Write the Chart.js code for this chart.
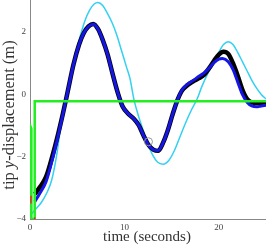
<!DOCTYPE html>
<html>
<head>
<meta charset="utf-8">
<script src="https://cdn.jsdelivr.net/npm/chart.js@4/dist/chart.umd.min.js"></script>
<style>
html, body { margin: 0; padding: 0; background: #fff; }
#wrap { width: 266px; height: 246px; }
</style>
</head>
<body>
<div id="wrap"><canvas id="tipChart" width="266" height="246"></canvas></div>
<script>
// tip displacement
const blackT = [0.5, 1.0, 1.7, 2.4, 3.0, 3.5, 4.0, 4.6, 5.2, 5.7, 6.2, 6.7, 7.2, 7.7, 8.2, 8.8, 9.3, 9.8, 10.4, 11.0, 11.5, 12.0, 12.5, 13.1, 13.6, 14.1, 14.6, 15.1, 15.6, 16.1, 16.7, 17.3, 17.9, 18.4, 19.0, 19.5, 20.0, 20.5, 21.0, 21.5, 22.0, 22.5, 23.0, 23.5, 24.0, 25.0];
const blackV = [-3.2, -3.0, -2.65, -1.95, -1.25, -0.6, 0.1, 0.95, 1.6, 1.97, 2.18, 2.26, 2.1, 1.75, 1.3, 0.6, 0.05, -0.38, -0.62, -0.78, -0.98, -1.3, -1.6, -1.78, -1.81, -1.55, -1.15, -0.65, -0.2, 0.12, 0.3, 0.42, 0.52, 0.62, 0.85, 1.08, 1.28, 1.37, 1.3, 1.0, 0.6, 0.15, -0.15, -0.26, -0.28, -0.28];

const blueT = [0.5, 1.0, 1.7, 2.4, 3.0, 3.5, 4.0, 4.6, 5.2, 5.7, 6.2, 6.7, 7.2, 7.7, 8.2, 8.8, 9.3, 9.8, 10.4, 11.0, 11.5, 12.0, 12.5, 13.1, 13.6, 14.1, 14.6, 15.1, 15.6, 16.1, 16.7, 17.3, 17.9, 18.4, 19.0, 19.5, 20.0, 20.4, 21.0, 21.5, 22.0, 22.5, 23.0, 23.5, 24.0, 24.5, 25.0];
const blueV = [-3.45, -3.2, -2.8, -2.05, -1.3, -0.62, 0.1, 0.95, 1.6, 1.97, 2.18, 2.25, 2.1, 1.75, 1.3, 0.6, 0.05, -0.38, -0.62, -0.78, -0.98, -1.3, -1.6, -1.78, -1.8, -1.55, -1.15, -0.65, -0.2, 0.14, 0.33, 0.45, 0.58, 0.68, 0.85, 1.02, 1.13, 1.15, 1.05, 0.8, 0.4, 0.0, -0.25, -0.37, -0.4, -0.37, -0.35];

const cyanT = [0, 0.5, 1.2, 1.8, 2.3, 2.8, 3.3, 3.8, 4.3, 4.8, 5.3, 5.8, 6.3, 6.8, 7.2, 7.7, 8.2, 8.7, 9.2, 9.7, 10.2, 10.6, 11.0, 11.5, 12.0, 12.5, 13.0, 13.5, 14.1, 14.7, 15.3, 15.9, 16.5, 17.1, 17.7, 18.2, 18.8, 19.4, 20.0, 20.5, 21.0, 21.5, 22.0, 22.5, 23.0, 23.5, 24.0, 24.5, 25.0];
const cyanV = [-3.9, -3.72, -3.47, -3.15, -2.75, -2.0, -0.95, -0.15, 0.55, 1.25, 1.85, 2.35, 2.7, 2.9, 2.95, 2.85, 2.6, 2.3, 1.9, 1.4, 0.9, 0.5, -0.15, -0.7, -1.16, -1.6, -1.95, -2.17, -2.24, -2.12, -1.8, -1.35, -0.9, -0.5, -0.15, 0.25, 0.65, 1.0, 1.35, 1.6, 1.69, 1.6, 1.35, 1.05, 0.75, 0.45, 0.2, 0.0, -0.15];

const greenT = [0.08, 0.08, 0.15, 0.15, 0.5, 0.5, 25];
const greenV = [-4, -1.05, -1.1, -4, -4, -0.22, -0.22];

const redT = [0.1, 0.1, null, 0.5, 0.5];
const redV = [-3.25, -3.5, null, -3.95, -4.05];

const markT = [12.55];
const markV = [-1.52];

const xTicks = [0, 10, 20];
const yTicks = [-4, -2, 0, 2];

function pts(ts, vs) {
  return ts.map((t, i) => (t === null ? { x: null, y: null } : { x: t, y: vs[i] }));
}

const serif = '"Liberation Serif", "DejaVu Serif", serif';

const axisTitles = {
  id: 'axisTitles',
  afterDraw(chart) {
    const ctx = chart.ctx;
    ctx.save();
    ctx.fillStyle = '#333';
    ctx.font = '15px ' + serif;
    ctx.textAlign = 'center';
    ctx.textBaseline = 'alphabetic';
    ctx.fillText('time (seconds)', 147, 241);

    // rotated y title, "y" in italics
    const parts = [['tip ', ''], ['y', 'italic '], ['-displacement (m)', '']];
    let total = 0;
    parts.forEach(p => { ctx.font = p[1] + '16.5px ' + serif; total += ctx.measureText(p[0]).width; });
    ctx.translate(13.5, 115);
    ctx.rotate(-Math.PI / 2);
    ctx.textAlign = 'left';
    let x = -total / 2;
    parts.forEach(p => {
      ctx.font = p[1] + '16.5px ' + serif;
      ctx.fillText(p[0], x, 0);
      x += ctx.measureText(p[0]).width;
    });
    ctx.restore();
  }
};

const ctx = document.getElementById('tipChart').getContext('2d');
new Chart(ctx, {
  type: 'line',
  data: {
    datasets: [
      { data: pts(markT, markV), showLine: false, pointRadius: 4, pointBorderColor: '#999', pointBackgroundColor: 'rgba(0,0,0,0)', pointBorderWidth: 1, order: 0 },
      { data: pts(redT, redV), borderColor: '#ee2222', borderWidth: 1.5, pointRadius: 0, tension: 0, spanGaps: false, order: 1 },
      { data: pts(greenT, greenV), borderColor: '#22ee22', borderWidth: 2.5, pointRadius: 0, tension: 0, order: 2 },
      { data: pts(blueT, blueV), borderColor: '#1515e6', borderWidth: 3, pointRadius: 0, cubicInterpolationMode: 'monotone', order: 3 },
      { data: pts(blackT, blackV), borderColor: '#000', borderWidth: 4.5, pointRadius: 0, cubicInterpolationMode: 'monotone', order: 4 },
      { data: pts(cyanT, cyanV), borderColor: '#33d0f2', borderWidth: 1.5, pointRadius: 0, cubicInterpolationMode: 'monotone', order: 5 }
    ]
  },
  options: {
    responsive: false,
    animation: false,
    events: [],
    layout: { padding: 0, autoPadding: false },
    plugins: { legend: { display: false }, tooltip: { enabled: false } },
    scales: {
      x: {
        type: 'linear',
        min: 0,
        max: 25,
        afterBuildTicks: s => { s.ticks = xTicks.map(v => ({ value: v })); },
        afterFit: s => { s.height = 27; s.paddingLeft = 0; s.paddingRight = 0; },
        grid: { display: false, drawTicks: false },
        border: { display: true, color: '#888', width: 1 },
        ticks: { color: '#444', padding: 3, maxRotation: 0, font: { family: serif, size: 9 } }
      },
      y: {
        type: 'linear',
        min: -4,
        max: 3.03,
        afterBuildTicks: s => { s.ticks = yTicks.map(v => ({ value: v })); },
        afterFit: s => { s.width = 30; s.paddingTop = 0; s.paddingBottom = 0; },
        grid: { display: false, drawTicks: false },
        border: { display: true, color: '#888', width: 1 },
        ticks: {
          color: '#444', padding: 4, font: { family: serif, size: 9 },
          callback: v => (v < 0 ? '\u2212' + Math.abs(v) : '' + v)
        }
      }
    }
  },
  plugins: [axisTitles]
});
</script>
</body>
</html>
